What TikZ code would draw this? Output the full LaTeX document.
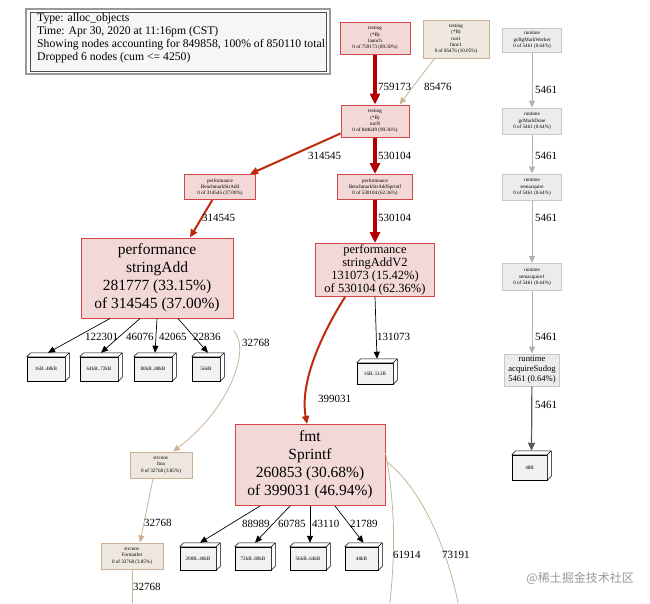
\documentclass[tikz,border=0pt]{standalone}
\usepackage{fontspec}
\setmainfont{Liberation Serif}
\newfontfamily\cjkfont{Noto Sans CJK SC}
\usetikzlibrary{arrows.meta}
\definecolor{hotfill}{RGB}{243,216,216}
\definecolor{hotdraw}{RGB}{210,70,70}
\definecolor{hotedge}{RGB}{178,0,0}
\definecolor{midedge}{RGB}{192,42,12}
\definecolor{tanfill}{RGB}{238,231,223}
\definecolor{tandraw}{RGB}{205,175,145}
\definecolor{tanedge}{RGB}{205,178,150}
\definecolor{grayfill}{RGB}{236,236,236}
\definecolor{graydraw}{RGB}{200,200,200}
\definecolor{grayedge}{RGB}{178,178,178}
\definecolor{boxfill}{RGB}{242,242,242}
\definecolor{legfill}{RGB}{246,246,246}
\tikzset{
  tinyfont/.style={font=\fontsize{5.1}{6.2}\selectfont},
  hot/.style={draw=hotdraw, fill=hotfill, line width=1pt, align=center, inner sep=0pt},
  tan/.style={draw=tandraw, fill=tanfill, line width=1pt, align=center, inner sep=0pt},
  grayn/.style={draw=graydraw, fill=grayfill, line width=1pt, align=center, inner sep=0pt},
  bigtext/.style={font=\fontsize{15.5}{18}\selectfont},
  midtext/.style={font=\fontsize{12.5}{13}\selectfont},
  threed/.style={draw=black, fill=boxfill, line width=0.5pt, align=center, inner sep=0pt, tinyfont},
  elabel/.style={anchor=west, inner sep=0pt, font=\fontsize{11}{13}\selectfont},
  thickedge/.style={draw=hotedge, line width=4pt, -{Triangle[length=11pt,width=10pt]}},
  medge/.style={draw=midedge, line width=2pt, -{Triangle[length=8pt,width=7pt]}},
  tanarrow/.style={draw=tanedge, line width=0.8pt, -{Triangle[length=7pt,width=6pt]}},
  grayarrow/.style={draw=grayedge, line width=1pt, -{Triangle[length=7pt,width=6pt]}},
  blackarrow/.style={draw=black, line width=0.7pt, -{Triangle[length=7pt,width=6pt]}},
}
\begin{document}
\begin{tikzpicture}[x=1pt,y=-1pt]
\useasboundingbox[fill=white] (0,0) rectangle (650,603);

% legend
\draw[draw=gray!80, line width=1.5pt] (26,9) rectangle (330,74);
\draw[draw=black!70, fill=legfill, line width=0.8pt] (30,12) rectangle (326,71);
\node[anchor=north west, align=left, inner sep=0pt, font=\fontsize{11.7}{13}\selectfont] (legend) at (37,13)
 {Type: alloc\_objects\\Time: Apr 30, 2020 at 11:16pm (CST)\\Showing nodes accounting for 849858, 100\% of 850110 total\\Dropped 6 nodes (cum <= 4250)};

% main nodes
\node[hot, tinyfont, minimum width=70, minimum height=32] (launch) at (375,38) {testing\\(*B)\\launch\\0 of 759173 (89.30\%)};
\node[tan, tinyfont, minimum width=66, minimum height=38] (run1) at (456,39) {testing\\(*B)\\run1\\func1\\0 of 85476 (10.05\%)};
\node[hot, tinyfont, minimum width=68, minimum height=32] (runN) at (375,121) {testing\\(*B)\\runN\\0 of 844649 (99.36\%)};
\node[hot, tinyfont, minimum width=71, minimum height=25] (bstr) at (220,187) {performance\\BenchmarkStrAdd\\0 of 314545 (37.00\%)};
\node[hot, tinyfont, minimum width=75, minimum height=25] (bspr) at (375,187) {performance\\BenchmarkStrAddSprintf\\0 of 530104 (62.36\%)};
\node[hot, bigtext, minimum width=152, minimum height=80] (sadd) at (157,278) {performance\\stringAdd\\281777 (33.15\%)\\of 314545 (37.00\%)};
\node[hot, midtext, minimum width=119, minimum height=53] (sadd2) at (375,270) {performance\\stringAddV2\\131073 (15.42\%)\\of 530104 (62.36\%)};
\node[hot, bigtext, minimum width=150, minimum height=81] (spf) at (310,465) {fmt\\Sprintf\\260853 (30.68\%)\\of 399031 (46.94\%)};
\node[tan, tinyfont, minimum width=62, minimum height=26] (itoa) at (161,465) {strconv\\Itoa\\0 of 32768 (3.85\%)};
\node[tan, tinyfont, minimum width=62, minimum height=26] (fint) at (132,556) {strconv\\FormatInt\\0 of 32768 (3.85\%)};
\coordinate (fintout) at (132,603);

% right column
\node[grayn, tinyfont, minimum width=59, minimum height=24] (gcbg) at (532,40) {runtime\\gcBgMarkWorker\\0 of 5461 (0.64\%)};
\node[grayn, tinyfont, minimum width=59, minimum height=26] (gcmd) at (532,121) {runtime\\gcMarkDone\\0 of 5461 (0.64\%)};
\node[grayn, tinyfont, minimum width=59, minimum height=26] (sema) at (532,187) {runtime\\semacquire\\0 of 5461 (0.64\%)};
\node[grayn, tinyfont, minimum width=59, minimum height=27] (sema1) at (532,277) {runtime\\semacquire1\\0 of 5461 (0.64\%)};
\node[grayn, font=\fontsize{8.6}{10}\selectfont, minimum width=55, minimum height=32] (sudog) at (532,370) {runtime\\acquireSudog\\5461 (0.64\%)};

% 3d boxes
\node[threed, minimum width=38, minimum height=24] (b1) at (46,369) {16B..48kB};
\node[threed, minimum width=38, minimum height=24] (b2) at (99,369) {64kB..72kB};
\node[threed, minimum width=38, minimum height=24] (b3) at (153,369) {80kB..88kB};
\node[threed, minimum width=28, minimum height=24] (b4) at (206,369) {56kB};
\node[threed, minimum width=36, minimum height=21] (b5) at (375,373.5) {16B..512B};
\node[threed, minimum width=36, minimum height=23] (c1) at (198,558.5) {208B..40kB};
\node[threed, minimum width=36, minimum height=23] (c2) at (253,558.5) {72kB..80kB};
\node[threed, minimum width=36, minimum height=23] (c3) at (308,558.5) {56kB..64kB};
\node[threed, minimum width=33, minimum height=23] (c4) at (361.5,558.5) {48kB};
\node[threed, minimum width=35, minimum height=25] (d1) at (529.5,467.5) {48B};
\foreach \n in {b1,b2,b3,b4,b5,c1,c2,c3,c4,d1}{
  \filldraw[fill=white, draw=black, line width=0.5pt, line join=round]
    (\n.north west) -- ++(4,-4) -- ([shift={(4,-4)}]\n.north east) -- ([shift={(4,-4)}]\n.south east) -- (\n.south east) -- (\n.north east) -- cycle;
  \draw[black, line width=0.5pt] (\n.north east) -- ++(4,-4);
}

% edges
\draw[thickedge] (launch) -- (runN);
\node[elabel] (l1) at (378,87) {759173};
\coordinate (r1s) at ([xshift=12]run1.south west);
\draw[tanarrow] (r1s) -- ([xshift=-10]runN.north east);
\node[elabel] (l2) at (424,87) {85476};
\draw[medge] ([yshift=4]runN.south west) -- ([xshift=-6]bstr.north east);
\node[elabel] (l3) at (308,156) {314545};
\draw[thickedge] (runN) -- (bspr);
\node[elabel] (l4) at (378,156) {530104};
\draw[medge] (bstr) -- ([xshift=33]sadd.north);
\node[elabel] (l5) at (202,218) {314545};
\draw[thickedge] (bspr) -- (sadd2);
\node[elabel] (l6) at (378,218) {530104};

\draw[blackarrow] ([xshift=-47]sadd.south) -- ([shift={(2,-4)}]b1.north);
\node[elabel] (l7) at (85,337) {122301};
\draw[blackarrow] ([xshift=-17]sadd.south) -- ([shift={(2,-4)}]b2.north);
\node[elabel] (l8) at (126,337) {46076};
\draw[blackarrow] (sadd.south) -- ([shift={(2,-4)}]b3.north);
\node[elabel] (l9) at (159,337) {42065};
\draw[blackarrow] ([xshift=21]sadd.south) -- ([shift={(2,-4)}]b4.north);
\node[elabel] (l10) at (193,337) {22836};
\draw[tanarrow] ([yshift=-12]sadd.south east) .. controls (252,350) and (228,410) .. ([xshift=12]itoa.north);
\node[elabel] (l11) at (242,343) {32768};

\draw[blackarrow] (sadd2.south) -- ([shift={(2,-4)}]b5.north);
\node[elabel] (l12) at (377,337) {131073};
\draw[medge] ([xshift=-30]sadd2.south) .. controls (318,340) and (300,385) .. ([xshift=-3]spf.north);
\node[elabel] (l13) at (318,399) {399031};

\draw[tanarrow] ([xshift=-8]itoa.south) -- ([xshift=8]fint.north);
\node[elabel] (l14) at (144,523) {32768};
\draw[tanedge, line width=0.8pt] (fint) -- (fintout);
\node[elabel] (l15) at (133,587) {32768};

\draw[blackarrow] ([xshift=-50]spf.south) -- ([shift={(2,-4)}]c1.north);
\node[elabel] (l16) at (242,524) {88989};
\draw[blackarrow] ([xshift=-20]spf.south) -- ([shift={(2,-4)}]c2.north);
\node[elabel] (l17) at (278,524) {60785};
\draw[blackarrow] (spf.south) -- ([shift={(2,-4)}]c3.north);
\node[elabel] (l18) at (312,524) {43110};
\draw[blackarrow] ([xshift=25]spf.south) -- ([shift={(2,-4)}]c4.north);
\node[elabel] (l19) at (350,524) {21789};
\coordinate (o1) at (390,603);
\coordinate (o2) at (458,603);
\draw[tanedge, line width=0.8pt] ([yshift=12]spf.east) .. controls (398,520) and (393,570) .. (o1);
\draw[tanedge, line width=0.8pt] ([yshift=4]spf.east) .. controls (425,490) and (450,560) .. (o2);
\node[elabel] (l20) at (393,555) {61914};
\node[elabel] (l21) at (442,555) {73191};

% right column edges
\draw[grayarrow] (gcbg) -- (gcmd);
\node[elabel] (r1) at (535,90) {5461};
\draw[grayarrow] (gcmd) -- (sema);
\node[elabel] (r2) at (535,156) {5461};
\draw[grayarrow] (sema) -- (sema1);
\node[elabel] (r3) at (535,218) {5461};
\draw[grayarrow] (sema1) -- (sudog);
\node[elabel] (r4) at (535,337) {5461};
\draw[draw=black!65, line width=1.2pt, -{Triangle[length=8pt,width=7pt]}] (sudog) -- ([shift={(2,-4)}]d1.north);
\node[elabel] (r5) at (535,405) {5461};

% watermark
\node[anchor=east, inner sep=0pt, text=black!40, font=\cjkfont\fontsize{12}{14}\selectfont] (wm) at (634,578) {@稀土掘金技术社区};
\end{tikzpicture}
\end{document}
